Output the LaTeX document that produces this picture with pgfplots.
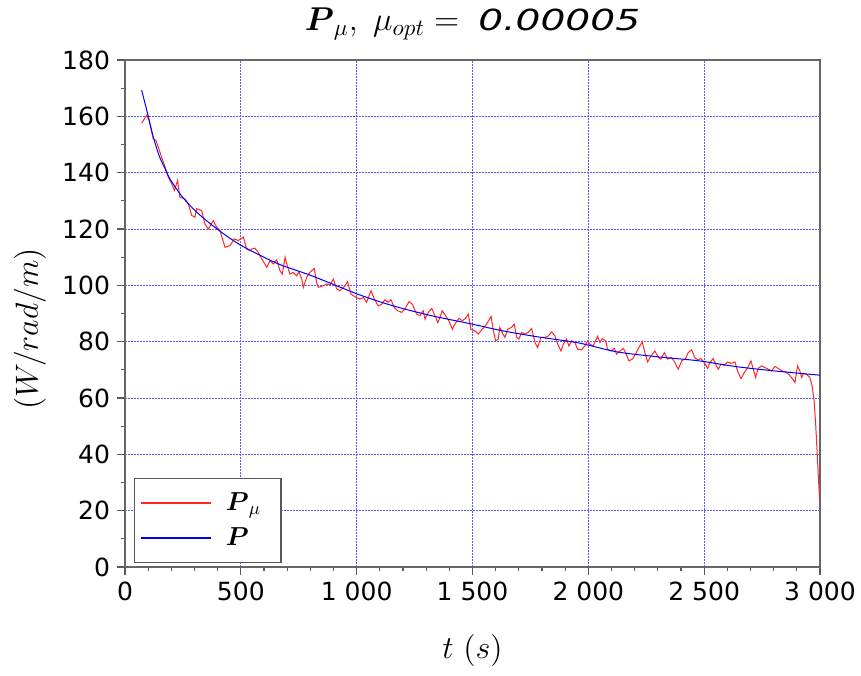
\documentclass[border=0pt]{standalone}
\usepackage{fix-cm}
\usepackage{amsmath}
\usepackage[no-math]{fontspec}
\usepackage{pgfplots}
\pgfplotsset{compat=1.18}
\newfontfamily\dejavu{DejaVu Sans}
\newfontfamily\titlesans[FakeStretch=1.35]{DejaVu Sans}
\definecolor{gridblue}{RGB}{90,90,255}
\begin{document}
\begin{tikzpicture}
\path[use as bounding box] (-62.5pt,-54pt) rectangle (368pt,283.5pt);
\begin{axis}[
  scale only axis, width=347.5pt, height=253.5pt,
  xmin=0, xmax=3000, ymin=0, ymax=180,
  xtick={0,500,...,3000},
  xticklabels={0,500,1 000,1 500,2 000,2 500,3 000},
  ytick={0,20,...,180},
  minor x tick num=4, minor y tick num=1,
  tick align=outside, xtick pos=left, ytick pos=left,
  major tick length=4pt, minor tick length=2pt,
  tick style={draw=black!65, line width=0.6pt},
  axis line style={black!60, line width=0.8pt},
  grid=major,
  grid style={draw=gridblue, dash pattern=on 1pt off 0.5pt, line width=0.5pt},
  tick label style={font=\dejavu\fontsize{12.5}{14}\selectfont},
  /pgf/number format/assume math mode=true,
  title={$\boldsymbol{P}_{\mu},\ \mu_{opt} =\ \;${\titlesans\itshape\fontsize{14.5}{16}\selectfont 0.00005}},
  title style={font=\fontsize{16.5}{18}\selectfont, at={(axis description cs:0.5,1)}, anchor=base, yshift=8.5pt},
  xlabel={$t\ (s)$},
  xlabel style={font=\fontsize{16}{18}\selectfont, at={(axis description cs:0.5,-0.164)}, anchor=center},
  ylabel={$(W/rad/m)$},
  ylabel style={font=\fontsize{16}{18}\selectfont, at={(axis description cs:-0.137,0.47)}, anchor=center},
  legend style={at={(axis description cs:0.013,0.008)}, anchor=south west,
    draw=black!65, line width=0.6pt, font=\fontsize{13}{15}\selectfont,
    inner xsep=3pt, inner ysep=5pt, row sep=3pt,
    nodes={inner xsep=7pt, inner ysep=2pt}},
  legend cell align=left,
  legend image code/.code={\draw[#1, line width=0.6pt] (0pt,0pt) -- (35pt,0pt);},
]
\addplot[red!85!white, line width=0.5pt] coordinates {
(72,157.6)(94,160.4)(104,158.6)(122,152)(133,151.5)(144,149)(158,145.5)(173,142)(187,138.4)(202,136)(213,133.7)(227,137.2)(237,131.3)(259,130.7)(273,129)(288,124.8)(302,124.2)(309,127.2)(331,126.5)(345,121.8)(360,120)(381,123)(396,120.6)(410,119.4)(432,113.5)(453,114.1)(472,116.5)(489,115.9)(511,117.1)(525,112.9)(540,112.3)(547,112.9)(561,113.2)(575,111.7)(590,109.4)(612,106.4)(626,108.8)(640,107.6)(655,109.1)(669,105.2)(679,104)(691,110)(702,106.4)(712,104)(726,104.6)(741,103.4)(751,104.8)(763,102.2)(770,99.3)(784,102.8)(798,104.6)(817,106)(827,101.1)(834,99.3)(849,99.6)(871,100.5)(885,100.1)(899,102.2)(914,98.7)(928,98.1)(947,99.6)(961,101.3)(975,96.9)(992,96)
(1014,95.1)(1029,95.7)(1043,94)(1062,98.1)(1076,95.1)(1093,92.7)(1108,93.3)(1122,94.9)(1136,94)(1148,94.9)(1162,92.2)(1177,91)(1194,90.4)(1208,91.6)(1226,94.2)(1240,93.3)(1259,89.8)(1273,89.2)(1287,91)(1295,88)(1309,90.4)(1324,91.8)(1338,89.2)(1350,86.8)(1360,88.6)(1369,91)(1384,89.2)(1398,87.4)(1413,84.4)(1424,86.2)(1442,88.3)(1456,87.4)(1470,88.3)(1482,89.8)(1493,84.4)
(1511,83.8)(1525,82.7)(1542,84.4)(1561,86.2)(1580,89)(1589,84.4)(1600,80.3)(1611,80.9)(1618,85.1)(1628,83.3)(1640,81.5)(1652,84.4)(1669,85.1)(1680,86.2)(1691,81.5)(1700,80.9)(1712,83.3)(1726,82.7)(1741,83.3)(1755,84.7)(1770,79.7)(1781,77.9)(1795,81.5)(1813,81.5)(1827,82)(1842,83.5)(1856,82)(1868,79.1)(1882,76.7)(1892,79.1)(1906,80.9)(1916,78.5)(1928,80.3)(1942,79.6)(1954,77.3)(1971,77.1)(1985,78.5)(1997,80.3)
(2007,79.1)(2021,78.5)(2040,81.9)(2050,79.7)(2060,81.1)(2075,80.3)(2083,77.3)(2098,76.7)(2112,77.6)(2122,75.6)(2136,76.7)(2151,77.6)(2161,76.1)(2175,73.2)(2190,73.8)(2204,75.6)(2218,77.9)(2233,79.9)(2244,76.1)(2256,72.8)(2270,74.9)(2287,76.7)(2302,74.4)(2313,73.8)(2328,76.1)(2342,73.8)(2359,74.4)(2374,72.6)(2388,70.2)(2403,73.2)(2420,74)(2431,76.1)(2446,77.1)(2460,74.2)(2474,73.5)(2486,74)
(2500,72.6)(2515,70.5)(2525,72.6)(2539,74)(2549,72)(2561,70.2)(2572,72)(2587,71.6)(2601,72.8)(2616,72.3)(2633,72.8)(2644,69.6)(2659,66.9)(2673,69)(2688,70.8)(2702,73.2)(2712,70.2)(2722,67.3)(2733,70.5)(2748,71.4)(2762,70.8)(2777,70.2)(2791,69.6)(2805,71.2)(2820,70.5)(2837,69.6)(2852,69.3)(2866,68.4)(2880,66.9)(2892,65.5)(2903,71.4)(2913,69.6)(2921,67.3)(2929,68.8)(2942,68.4)(2956,67.3)(2966,64.3)(2974,59.5)(2981,51.2)(2987,41.7)(2992,33.5)(2999,22.8)
};
\addlegendentry{$\boldsymbol{P}_{\mu}$}
\addplot[blue, line width=0.5pt, smooth] coordinates {
(72,169.3)(101,159.8)(122,152.7)(147,146.1)(173,141.4)(194,137.8)(237,132.5)(281,128.3)(331,124.4)(388,120.6)(446,117.1)(518,113.4)(662,107.6)(806,103.4)(1007,96.8)(1158,92.7)(1324,89.2)(1489,86.4)(1633,83.8)(1798,81.5)(1956,79.6)(2122,76.4)(2302,74.6)(2477,73.2)(2633,71.2)(2805,69.6)(3000,68.1)
};
\addlegendentry{$\boldsymbol{P}$}
\end{axis}
\end{tikzpicture}
\end{document}
